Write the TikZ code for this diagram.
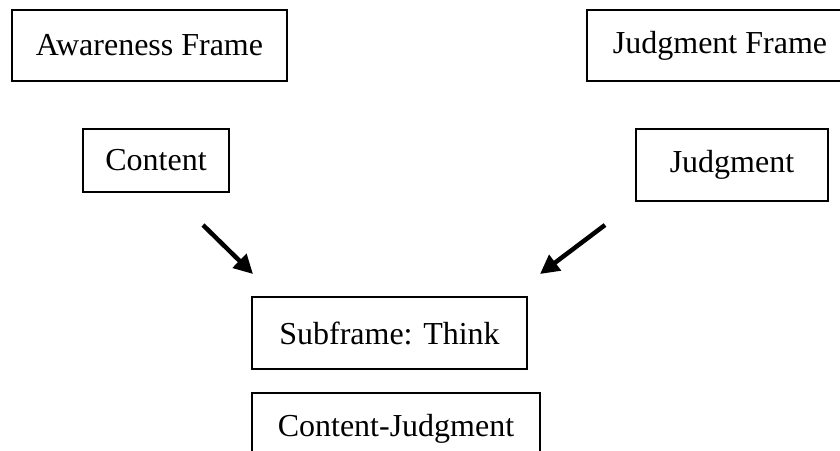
\documentclass[tikz,border=0pt]{standalone}
\usepackage{fontspec}
\setmainfont{Liberation Serif}
\usetikzlibrary{arrows.meta}

\begin{document}
\begin{tikzpicture}[
    x=1pt, y=-1pt,
    box/.style={rectangle, draw=black, line width=1.5pt, inner sep=0pt, align=center, font=\fontsize{32}{38}\selectfont},
    arrow/.style={-{Triangle[length=19pt,width=19pt]}, line width=4.5pt}
]
\useasboundingbox (0,0) rectangle (840,450);

% Frames
\node[box, minimum width=275, minimum height=71] at (149.5,45.5) (aware) {Awareness Frame};
\node[box, minimum width=266, minimum height=71] at (720,45.5) (jframe) {Judgment Frame};

% Elements
\node[box, minimum width=146, minimum height=63] at (156,160.5) (content) {Content};
\node[box, minimum width=192, minimum height=72] at (732,165) (judgment) {Judgment};

% Subframe
\node[box, minimum width=275, minimum height=72] at (389.5,333) (think) {Subframe: Think};
\node[box, minimum width=288, minimum height=72] at (396,429) (cj) {Content-Judgment};

% Arrow ends
\coordinate (c1) at (203,225);
\coordinate (c2) at (253,274);
\coordinate (j1) at (605,225);
\coordinate (j2) at (540,274);

% Arrows
\draw[arrow] (c1) -- (c2);
\draw[arrow] (j1) -- (j2);

\end{tikzpicture}
\end{document}
